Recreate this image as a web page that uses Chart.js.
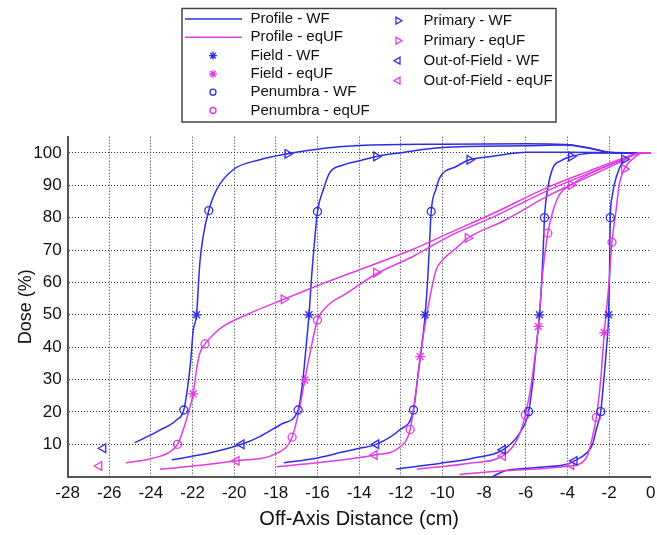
<!DOCTYPE html>
<html>
<head>
<meta charset="utf-8">
<script src="https://cdn.jsdelivr.net/npm/chart.js@4/dist/chart.umd.min.js"></script>
<style>
  html, body { margin: 0; padding: 0; background: #fff; }
  #wrap { width: 657px; height: 535px; }
</style>
</head>
<body>
<div id="wrap"><canvas id="doseChart" width="657" height="535"></canvas></div>
<script>
const blue = "#2d2de6";
const magenta = "#e33be3";

const xTicks = [-28, -26, -24, -22, -20, -18, -16, -14, -12, -10, -8, -6, -4, -2, 0];
const yTicks = [10, 20, 30, 40, 50, 60, 70, 80, 90, 100];

// profiles, wedge filter (WF)
const wf1X = [-24.77, -23.57, -22.77, -22.42, -22.25, -22.10, -21.97, -21.81, -21.65, -21.49, -21.22, -20.85, -20.05, -18.77, -17.44, -15.57, -13.98, -10.0, -6.0, -4.1, -3.0, -1.9, -1.0, 0];
const wf1Y = [10.5, 14.4, 17.5, 20.6, 27, 35, 45, 50, 66, 74.2, 82.2, 88.6, 94.8, 97.9, 99.7, 101.5, 102.3, 102.7, 102.8, 102.6, 101.6, 100.1, 100, 100];
const wf2X = [-23.0, -21.2, -19.65, -18.77, -17.65, -16.93, -16.70, -16.55, -16.41, -16.28, -16.15, -16.0, -15.7, -15.42, -14.8, -13.98, -13.18, -12.06, -10.0, -6.0, -4.1, -3.0, -1.9, -1.0, 0];
const wf2Y = [5.2, 7.3, 10.0, 12.4, 16.5, 20.6, 30, 40, 49.7, 62, 72, 81.9, 89, 93.8, 96.2, 97.6, 98.9, 100.0, 101.7, 102.2, 102.4, 101.5, 100.1, 100, 100];
const wf3X = [-17.62, -16.0, -14.8, -13.98, -13.18, -12.06, -11.39, -11.2, -11.0, -10.83, -10.7, -10.62, -10.54, -10.3, -10.14, -9.34, -8.70, -8.06, -7.26, -5.98, -4.0, -2.0, 0];
const wf3Y = [4.3, 5.8, 7.6, 8.8, 10.0, 14.4, 20.6, 30, 40, 50, 62, 72, 81.9, 89, 92.2, 95.8, 97.9, 98.6, 99.3, 100.2, 100.2, 100.1, 100];
const wf4X = [-12.22, -10.14, -8.54, -7.10, -6.30, -5.86, -5.65, -5.50, -5.34, -5.22, -5.15, -5.10, -4.94, -4.70, -4.3, -3.82, -3.2, -2.8, 0];
const wf4Y = [2.4, 4.1, 5.7, 8.3, 13.4, 20.1, 30, 40, 50, 62, 72, 80.0, 89.1, 95.3, 97.6, 98.9, 99.7, 100, 100];
const wf5X = [-7.82, -7.3, -6.94, -5.34, -3.90, -3.66, -3.10, -2.79, -2.62, -2.40, -2.25, -2.12, -2.02, -1.98, -1.96, -1.94, -1.85, -1.75, -1.5, -1.27, -0.9, -0.55, 0];
const wf5Y = [-0.8, 1.0, 1.9, 2.9, 4.1, 4.9, 7.2, 10.0, 14.4, 20.1, 30, 40, 50, 62, 72, 80.0, 86.5, 90.2, 95.3, 97.9, 99.3, 100, 100];

// profiles, equivalent unwedged field (eqUF)
const eq1X = [-25.2, -23.9, -23.09, -22.72, -22.45, -22.21, -21.97, -21.81, -21.65, -21.40, -20.95, -20.53, -19.41, -17.62, -15.89, -13.98, -11.5, -9.66, -7.5, -5.0, -3.0, -1.35, -0.5, 0];
const eq1Y = [4.3, 5.7, 7.7, 10.0, 14.4, 19.6, 25.6, 33.0, 38.1, 41.0, 44.2, 46.4, 50.0, 54.8, 59.3, 63.9, 70.0, 75.3, 81.5, 89.2, 94.3, 98.3, 100, 100];
const eq2X = [-23.57, -21.5, -19.89, -17.97, -17.22, -16.9, -16.61, -16.3, -16.0, -15.57, -14.61, -13.18, -11.42, -9.66, -7.5, -5.0, -3.0, -1.35, -0.5, 0];
const eq2Y = [2.3, 3.6, 4.9, 7.2, 12.2, 20, 29.9, 40, 48.4, 52.5, 56.6, 62.6, 68.0, 74.3, 80.4, 88.2, 93.6, 97.9, 100, 100];
const eq3X = [-17.97, -16.0, -13.98, -13.26, -12.06, -11.55, -11.3, -11.07, -10.7, -10.30, -9.98, -9.34, -8.78, -7.0, -5.0, -3.0, -1.35, -0.5, 0];
const eq3Y = [3.1, 4.3, 5.9, 6.7, 9.1, 14.6, 25, 37.1, 52, 63.9, 67.0, 70.6, 73.7, 79.2, 86.5, 92.6, 97.5, 100, 100];
const eq4X = [-11.23, -8.54, -7.10, -6.38, -6.02, -5.7, -5.39, -5.2, -4.94, -4.70, -4.38, -3.82, -2.94, -1.5, -0.5, 0];
const eq4Y = [2.3, 4.3, 6.4, 11.9, 19.1, 30, 46.4, 62, 75.2, 81.9, 87.1, 90.1, 93.5, 97.6, 100, 100];
const eq5X = [-9.18, -6.94, -3.90, -3.10, -2.79, -2.61, -2.4, -2.23, -2.0, -1.86, -1.67, -1.51, -1.27, -0.8, -0.4, 0];
const eq5Y = [0.7, 1.9, 3.3, 5.7, 12.4, 18.3, 30, 44.5, 60, 72.4, 81.9, 90.2, 95.0, 98.5, 100, 100];

// region markers
const fieldWfX = [-21.81, -16.41, -10.83, -5.34, -2.02];
const fieldWfY = [50, 50, 50, 50, 50];
const fieldEqX = [-21.97, -16.61, -11.07, -5.39, -2.23];
const fieldEqY = [25.6, 29.9, 37.1, 46.4, 44.5];
const penWfX = [-22.42, -21.22, -16.93, -16.0, -11.39, -10.54, -5.86, -5.10, -2.40, -1.94];
const penWfY = [20.6, 82.2, 20.6, 81.9, 20.6, 81.9, 20.1, 80.0, 20.1, 80.0];
const penEqX = [-22.72, -21.40, -17.22, -16.0, -11.55, -6.02, -4.94, -2.61, -1.86];
const penEqY = [10.0, 41.0, 12.2, 48.4, 14.6, 19.1, 75.2, 18.3, 72.4];
const primWfX = [-17.44, -13.18, -8.70, -3.82, -1.27];
const primWfY = [99.7, 98.9, 97.9, 98.9, 98.0];
const primEqX = [-17.62, -13.18, -8.78, -3.82, -1.27];
const primEqY = [54.8, 63.0, 73.7, 90.1, 95.0];
const outWfX = [-26.29, -19.65, -13.18, -7.10, -3.66];
const outWfY = [8.8, 10.0, 10.0, 8.3, 4.9];
const outEqX = [-26.48, -19.89, -13.26, -7.10, -3.82];
const outEqY = [3.3, 4.9, 6.7, 6.4, 3.6];

function pts(xs, ys) {
  return xs.map((x, i) => ({ x, y: ys[i] }));
}

function profile(xs, ys, color) {
  return {
    data: pts(xs, ys),
    showLine: true,
    borderColor: color,
    borderWidth: 1.5,
    pointRadius: 0,
    cubicInterpolationMode: "monotone"
  };
}

function markers(xs, ys, color, style, rotation, radius) {
  return {
    data: pts(xs, ys),
    showLine: false,
    pointStyle: style,
    rotation,
    pointRadius: radius,
    borderColor: color,
    backgroundColor: "rgba(0,0,0,0)",
    pointBorderWidth: 1.3
  };
}

const legendRows = [
  { col: 0, row: 0, text: "Profile - WF", color: blue, line: true },
  { col: 0, row: 1, text: "Profile - eqUF", color: magenta, line: true },
  { col: 0, row: 2, text: "Field - WF", color: blue, style: "star", rot: 0, r: 4 },
  { col: 0, row: 3, text: "Field - eqUF", color: magenta, style: "star", rot: 0, r: 4 },
  { col: 0, row: 4, text: "Penumbra - WF", color: blue, style: "circle", rot: 0, r: 3 },
  { col: 0, row: 5, text: "Penumbra - eqUF", color: magenta, style: "circle", rot: 0, r: 3 },
  { col: 1, row: 0, text: "Primary - WF", color: blue, style: "triangle", rot: 90, r: 4 },
  { col: 1, row: 1, text: "Primary - eqUF", color: magenta, style: "triangle", rot: 90, r: 4 },
  { col: 1, row: 2, text: "Out-of-Field - WF", color: blue, style: "triangle", rot: -90, r: 4 },
  { col: 1, row: 3, text: "Out-of-Field - eqUF", color: magenta, style: "triangle", rot: -90, r: 4 }
];

const boxLegend = {
  id: "boxLegend",
  afterDraw(chart) {
    const ctx = chart.ctx;
    ctx.save();
    ctx.fillStyle = "#fff";
    ctx.fillRect(182, 8.5, 374, 113.5);
    ctx.strokeStyle = "#444";
    ctx.lineWidth = 1.5;
    ctx.strokeRect(182, 8.5, 374, 113.5);
    ctx.font = "15px 'Liberation Sans', Arial, sans-serif";
    ctx.textBaseline = "middle";
    legendRows.forEach(item => {
      const y = item.col === 0 ? 19 + item.row * 18.3 : 20.7 + item.row * 20;
      const mx = item.col === 0 ? 213 : 398;
      const tx = item.col === 0 ? 250.5 : 423.5;
      ctx.strokeStyle = item.color;
      if (item.line) {
        ctx.lineWidth = 1.5;
        ctx.beginPath();
        ctx.moveTo(185, y);
        ctx.lineTo(242, y);
        ctx.stroke();
      } else {
        ctx.lineWidth = 1.3;
        ctx.fillStyle = "rgba(0,0,0,0)";
        Chart.helpers.drawPoint(ctx, { pointStyle: item.style, rotation: item.rot, radius: item.r, borderWidth: 1.3 }, mx, y);
      }
      ctx.fillStyle = "#111";
      ctx.fillText(item.text, tx, y);
    });
    ctx.restore();
  }
};

const ctx = document.getElementById("doseChart").getContext("2d");

new Chart(ctx, {
  type: "scatter",
  data: {
    datasets: [
      markers(fieldWfX, fieldWfY, blue, "star", 0, 5),
      markers(fieldEqX, fieldEqY, magenta, "star", 0, 5),
      markers(penWfX, penWfY, blue, "circle", 0, 4),
      markers(penEqX, penEqY, magenta, "circle", 0, 4),
      markers(primWfX, primWfY, blue, "triangle", 90, 5),
      markers(primEqX, primEqY, magenta, "triangle", 90, 5),
      markers(outWfX, outWfY, blue, "triangle", -90, 5),
      markers(outEqX, outEqY, magenta, "triangle", -90, 5),
      profile(eq1X, eq1Y, magenta),
      profile(eq2X, eq2Y, magenta),
      profile(eq3X, eq3Y, magenta),
      profile(eq4X, eq4Y, magenta),
      profile(eq5X, eq5Y, magenta),
      profile(wf1X, wf1Y, blue),
      profile(wf2X, wf2Y, blue),
      profile(wf3X, wf3Y, blue),
      profile(wf4X, wf4Y, blue),
      profile(wf5X, wf5Y, blue)
    ]
  },
  options: {
    responsive: false,
    animation: false,
    layout: { padding: { left: 0, right: 5.6, top: 136.7, bottom: 0 } },
    plugins: {
      legend: { display: false },
      tooltip: { enabled: false }
    },
    scales: {
      x: {
        type: "linear",
        min: -28,
        max: 0,
        afterBuildTicks: scale => { scale.ticks = xTicks.map(v => ({ value: v })); },
        afterFit: scale => {
          scale.height = 58.3;
          scale.paddingLeft = 0;
          scale.paddingRight = 0;
        },
        ticks: {
          color: "#111",
          padding: 6,
          font: { family: "'Liberation Sans', Arial, sans-serif", size: 17 }
        },
        grid: {
          drawTicks: false,
          color: c => (c.tick && c.tick.value === 0 ? "rgba(0,0,0,0)" : "#333"),
          lineWidth: 1
        },
        border: { display: true, color: "#555", width: 2, dash: [1, 2] },
        title: {
          display: true,
          text: "Off-Axis Distance (cm)",
          color: "#111",
          padding: { top: 0, bottom: 4 },
          font: { family: "'Liberation Sans', Arial, sans-serif", size: 20 }
        }
      },
      y: {
        type: "linear",
        min: 0,
        max: 105,
        afterBuildTicks: scale => { scale.ticks = yTicks.map(v => ({ value: v })); },
        afterFit: scale => { scale.width = 67.6; },
        ticks: {
          color: "#111",
          padding: 6,
          font: { family: "'Liberation Sans', Arial, sans-serif", size: 17 }
        },
        grid: {
          drawTicks: false,
          color: "#333",
          lineWidth: 1
        },
        border: { display: true, color: "#555", width: 2, dash: [1, 2] },
        title: {
          display: true,
          text: "Dose (%)",
          color: "#111",
          padding: { top: 15, bottom: 0 },
          font: { family: "'Liberation Sans', Arial, sans-serif", size: 18 }
        }
      }
    }
  },
  plugins: [boxLegend]
});
</script>
</body>
</html>
